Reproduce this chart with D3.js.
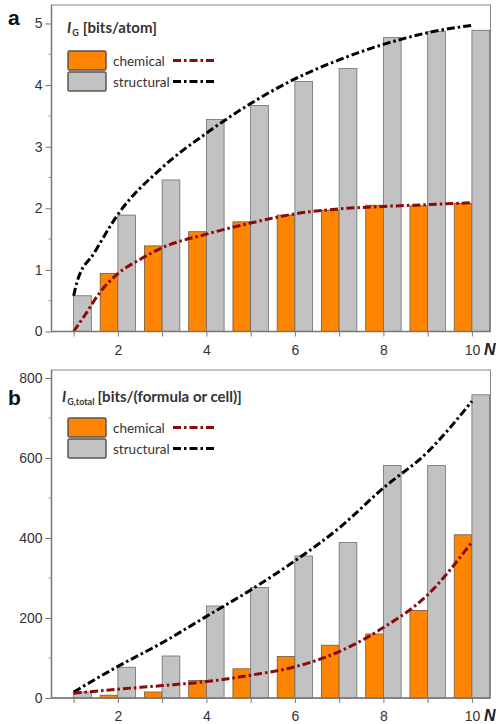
<!DOCTYPE html>
<html>
<head>
<meta charset="utf-8">
<script src="https://cdn.jsdelivr.net/npm/d3@7"></script>
<style>
  body { margin: 0; background: #fff; }
  svg { display: block; }
</style>
</head>
<body>
<div id="chart"></div>
<script>
// categories (number of elements N) and tick labels
var N = [1, 2, 3, 4, 5, 6, 7, 8, 9, 10];
var xLabels = [2, 4, 6, 8, 10];

// panel a: bits per atom
var chemA = [0, 0.94, 1.39, 1.62, 1.78, 1.89, 1.97, 2.05, 2.04, 2.08];
var strucA = [0.58, 1.89, 2.46, 3.44, 3.67, 4.06, 4.27, 4.77, 4.87, 4.89];
var chemFitAN = [1, 1.25, 1.6, 2, 2.5, 3, 4, 5, 6, 7, 8, 9, 10];
var chemFitA = [0, 0.26, 0.64, 0.94, 1.17, 1.36, 1.58, 1.76, 1.91, 1.99, 2.03, 2.06, 2.09];
var strucFitAN = [1, 1.08, 1.46, 2, 3, 4, 5, 6, 7, 8, 9, 10];
var strucFitA = [0.58, 0.81, 1.27, 1.9, 2.66, 3.22, 3.7, 4.1, 4.41, 4.66, 4.85, 4.97];
var yTicksA = [0, 1, 2, 3, 4, 5];
var yMinorA = [0.5, 1.5, 2.5, 3.5, 4.5];

// panel b: bits per formula or cell
var chemB = [0, 7, 15, 44, 73, 104, 132, 160, 219, 408];
var strucB = [15, 77, 105, 230, 276, 355, 389, 581, 581, 758];
var chemFitB = [12, 22, 31, 41, 57, 78, 116, 176, 258, 390];
var strucFitB = [15, 79, 138, 204, 270, 343, 425, 525, 615, 742];
var yTicksB = [0, 200, 400, 600, 800];
var yMinorB = [100, 300, 500, 700];

var W = 496, H = 724;
var left = 51.5, right = 490.5;
var barW = 0.4;

var svg = d3.select("#chart")
    .append("svg")
    .attr("width", W)
    .attr("height", H);

var x = d3.scaleLinear().domain([0.5, 10.42]).range([left, right]);

var tickFont = "'Liberation Sans', Arial, sans-serif";
var textFont = "Lato, 'Open Sans', sans-serif";
var dash = "8,3,2.5,3";

function drawPanel(p) {
    var y = d3.scaleLinear().domain([0, p.yMax]).range([p.bottom, p.top]);
    var g = svg.append("g");

    // frame
    g.append("rect")
        .attr("x", left).attr("y", p.top)
        .attr("width", right - left).attr("height", p.bottom - p.top)
        .attr("fill", "none").attr("stroke", "#888").attr("stroke-width", 1);

    var rows = N.map(function (n, i) { return { n: n, chem: p.chem[i], struc: p.struc[i] }; });

    // bars: chemical left of tick, structural right of tick
    g.selectAll(".chem")
        .data(rows.filter(function (d) { return d.chem > 0; }))
        .enter().append("rect")
        .attr("x", function (d) { return x(d.n - barW); })
        .attr("width", function (d) { return x(d.n) - x(d.n - barW); })
        .attr("y", function (d) { return y(d.chem); })
        .attr("height", function (d) { return p.bottom - y(d.chem); })
        .attr("fill", "#ff8400").attr("stroke", "#6a5a4a").attr("stroke-width", 0.8);

    g.selectAll(".struc")
        .data(rows)
        .enter().append("rect")
        .attr("x", function (d) { return x(d.n); })
        .attr("width", function (d) { return x(d.n + barW) - x(d.n); })
        .attr("y", function (d) { return y(d.struc); })
        .attr("height", function (d) { return p.bottom - y(d.struc); })
        .attr("fill", "#c2c2c2").attr("stroke", "#6e6e6e").attr("stroke-width", 0.8);

    // fitted curves
    var line = d3.line()
        .x(function (d) { return x(d[0]); })
        .y(function (d) { return y(d[1]); })
        .curve(d3.curveMonotoneX);

    g.append("path")
        .datum(d3.zip(p.strucFitN, p.strucFit))
        .attr("d", line)
        .attr("fill", "none").attr("stroke", "#000")
        .attr("stroke-width", 3).attr("stroke-dasharray", dash);

    g.append("path")
        .datum(d3.zip(p.chemFitN, p.chemFit))
        .attr("d", line)
        .attr("fill", "none").attr("stroke", "#8b0a0a")
        .attr("stroke-width", 3).attr("stroke-dasharray", dash);

    // x axis
    var xAxis = d3.axisBottom(x)
        .tickValues(N)
        .tickSize(5)
        .tickFormat(function (d) { return xLabels.indexOf(d) >= 0 ? d : ""; });
    var xa = g.append("g")
        .attr("transform", "translate(0," + p.bottom + ")")
        .call(xAxis);
    xa.select(".domain").remove();
    xa.selectAll("line").attr("stroke", "#777");
    xa.selectAll("text")
        .attr("font-family", tickFont).attr("font-size", 14)
        .attr("fill", "#333").attr("dy", null).attr("y", p.xLabelOff);
    g.append("line")
        .attr("x1", left).attr("x2", right)
        .attr("y1", p.bottom).attr("y2", p.bottom)
        .attr("stroke", "#777").attr("stroke-width", 1.5);

    // y axis
    var yAxis = d3.axisLeft(y)
        .tickValues(p.yTicks)
        .tickSize(6)
        .tickPadding(3)
        .tickFormat(d3.format("d"));
    var ya = g.append("g")
        .attr("transform", "translate(" + left + ",0)")
        .call(yAxis);
    ya.select(".domain").remove();
    ya.selectAll("line").attr("stroke", "#777");
    ya.selectAll("text")
        .attr("font-family", tickFont).attr("font-size", 14).attr("fill", "#333");

    g.selectAll(".minor")
        .data(p.yMinor)
        .enter().append("line")
        .attr("x1", left - 3).attr("x2", left)
        .attr("y1", function (d) { return y(d); })
        .attr("y2", function (d) { return y(d); })
        .attr("stroke", "#999");

    g.append("line")
        .attr("x1", left).attr("x2", left)
        .attr("y1", p.top).attr("y2", p.bottom)
        .attr("stroke", "#777").attr("stroke-width", 1.5);

    // N label
    g.append("text")
        .attr("x", 484).attr("y", p.bottom + p.xLabelOff)
        .attr("font-family", tickFont).attr("font-size", 16)
        .attr("font-weight", "bold").attr("font-style", "italic")
        .attr("fill", "#222")
        .text("N");

    // panel letter
    g.append("text")
        .attr("x", 8).attr("y", p.letterY)
        .attr("font-family", tickFont).attr("font-size", 21)
        .attr("font-weight", "bold").attr("fill", "#111")
        .text(p.letter);

    // title with subscript
    var t = g.append("text")
        .attr("x", p.titleX).attr("y", p.titleY)
        .attr("font-family", textFont).attr("font-size", 15)
        .attr("font-weight", "bold").attr("fill", "#333");
    t.append("tspan").attr("font-style", "italic").text("I");
    t.append("tspan").attr("font-size", 9).attr("dy", 3).attr("dx", 1).text(p.sub);
    t.append("tspan").attr("dy", -3).attr("dx", p.subGap).text(p.unit);

    // legend
    var items = [
        { name: "chemical", fill: "#ff8400", stroke: "#8b0a0a" },
        { name: "structural", fill: "#c2c2c2", stroke: "#000" }
    ];
    var lg = g.selectAll(".leg")
        .data(items)
        .enter().append("g")
        .attr("transform", function (d, i) { return "translate(68," + (p.legY + i * 21) + ")"; });
    lg.append("rect")
        .attr("width", 38).attr("height", 19).attr("rx", 1.5)
        .attr("fill", function (d) { return d.fill; })
        .attr("stroke", "#555").attr("stroke-width", 1.5);
    lg.append("text")
        .attr("x", 45).attr("y", 14.5)
        .attr("font-family", textFont).attr("font-size", 13.5)
        .attr("fill", "#333")
        .text(function (d) { return d.name; });
    lg.append("line")
        .attr("x1", 105).attr("x2", 146)
        .attr("y1", 9.5).attr("y2", 9.5)
        .attr("stroke", function (d) { return d.stroke; })
        .attr("stroke-width", 3).attr("stroke-dasharray", dash);
}

drawPanel({
    top: 5, bottom: 331.5, yMax: 5.3,
    yTicks: yTicksA, yMinor: yMinorA,
    chem: chemA, struc: strucA,
    chemFitN: chemFitAN, chemFit: chemFitA,
    strucFitN: strucFitAN, strucFit: strucFitA,
    xLabelOff: 23.5, letter: "a", letterY: 25,
    titleX: 67, titleY: 33, sub: "G", subGap: 4, unit: "[bits/atom]",
    legY: 51
});

drawPanel({
    top: 370, bottom: 698, yMax: 820,
    yTicks: yTicksB, yMinor: yMinorB,
    chem: chemB, struc: strucB,
    chemFitN: N, chemFit: chemFitB,
    strucFitN: N, strucFit: strucFitB,
    xLabelOff: 22.5, letter: "b", letterY: 405,
    titleX: 62, titleY: 402, sub: "G,total", subGap: 3, unit: "[bits/(formula or cell)]",
    legY: 418
});
</script>
</body>
</html>
